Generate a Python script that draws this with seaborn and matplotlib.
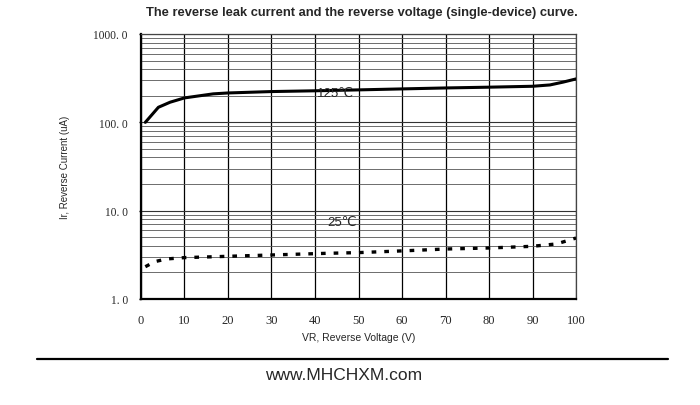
import numpy as np
import pandas as pd
import seaborn as sns
from matplotlib import pyplot as plt
from matplotlib.ticker import LogLocator, NullFormatter, FixedLocator

# values
vr_125 = [1, 1.3, 4.0, 6.7, 10, 16.6, 20, 30, 41, 50, 60, 70, 80, 90, 94, 97, 100]
ir_125 = [100, 104, 148, 169, 189, 210, 215, 223, 228, 233, 239, 245, 250, 256, 265, 285, 310]
vr_25 = [1, 3.2, 5.9, 10, 19.7, 30, 42.7, 50, 61, 70, 80, 90, 95.5, 100]
ir_25 = [2.32, 2.65, 2.84, 2.94, 3.04, 3.15, 3.29, 3.35, 3.52, 3.68, 3.78, 3.95, 4.2, 4.9]
xticks = [0, 10, 20, 30, 40, 50, 60, 70, 80, 90, 100]
yticks = [1, 10, 100, 1000]
ytick_labels = ["1. 0", "10. 0", "100. 0", "1000. 0"]

sns.set_style("white")
plt.rcParams['font.family'] = ['Liberation Sans', 'DejaVu Sans']

fig = plt.figure(figsize=(7, 4.06), dpi=100)
ax = fig.add_axes([0.2014, 0.2611, 0.6215, 0.6527])

df125 = pd.DataFrame({"VR": vr_125, "Ir": ir_125})
df25 = pd.DataFrame({"VR": vr_25, "Ir": ir_25})
sns.lineplot(data=df125, x="VR", y="Ir", ax=ax, color="black", linewidth=2.2, zorder=3)
sns.lineplot(data=df25, x="VR", y="Ir", ax=ax, color="black", linewidth=2.4,
             linestyle=(0, (1.4, 2.4)), zorder=3)

ax.set_yscale('log')
ax.set_xlim(0, 100)
ax.set_ylim(1, 1000)
ax.xaxis.set_major_locator(FixedLocator(xticks))
ax.yaxis.set_major_locator(FixedLocator(yticks))
ax.yaxis.set_minor_locator(LogLocator(base=10, subs=np.arange(2, 10)))
ax.yaxis.set_minor_formatter(NullFormatter())
ax.set_xticklabels([str(t) for t in xticks], family='Liberation Serif', fontsize=9)
ax.set_yticklabels(ytick_labels, family='Liberation Serif', fontsize=8.3)
ax.tick_params(axis='x', length=0, pad=11)
ax.tick_params(axis='y', which='major', length=1.5, width=1, color='black', pad=8, left=True)
ax.tick_params(axis='y', which='minor', length=0)

ax.grid(True, axis='x', color='black', linewidth=0.9)
ax.grid(True, axis='y', which='major', color='#333333', linewidth=0.8)
ax.grid(True, axis='y', which='minor', color='#555555', linewidth=0.6)

for side in ['top', 'right']:
    ax.spines[side].set_color('#444444')
    ax.spines[side].set_linewidth(0.9)
for side in ['left', 'bottom']:
    ax.spines[side].set_color('black')
    ax.spines[side].set_linewidth(1.6)

ax.set_xlabel("VR, Reverse Voltage (V)", fontsize=7.5, labelpad=4)
ax.set_ylabel("Ir, Reverse Current (uA)", fontsize=7, labelpad=17)

ax.text(44.8, 215, "125℃", fontsize=9.5, ha='center', va='center')
ax.text(46.2, 7.4, "25℃", fontsize=9.5, ha='center', va='center')

fig.text(0.517, 0.968, "The reverse leak current and the reverse voltage (single-device) curve.",
         ha='center', va='center', fontsize=9.3, fontweight='bold')
fig.add_artist(plt.Line2D([37 / 700, 668 / 700], [1 - 360 / 406, 1 - 360 / 406],
                          color='black', linewidth=1.6))
fig.text(344 / 700, 1 - 376 / 406, "www.MHCHXM.com", ha='center', va='center', fontsize=12.5)

fig.savefig("out.png", dpi=100)
